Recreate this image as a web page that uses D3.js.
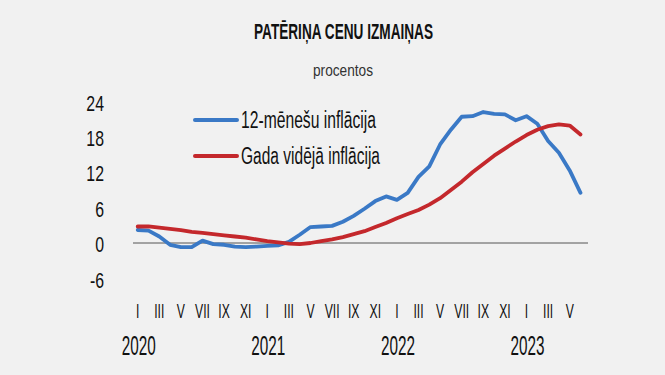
<!DOCTYPE html>
<html><head><meta charset="utf-8">
<script src="https://cdn.jsdelivr.net/npm/d3@7"></script>
<style>html,body{margin:0;padding:0;background:#f1f1f1;} svg{display:block;}</style>
</head><body>
<svg id="c" width="665" height="375"></svg>
<script>
const months = [
  "2020-01","2020-02","2020-03","2020-04","2020-05","2020-06","2020-07","2020-08","2020-09","2020-10","2020-11","2020-12",
  "2021-01","2021-02","2021-03","2021-04","2021-05","2021-06","2021-07","2021-08","2021-09","2021-10","2021-11","2021-12",
  "2022-01","2022-02","2022-03","2022-04","2022-05","2022-06","2022-07","2022-08","2022-09","2022-10","2022-11","2022-12",
  "2023-01","2023-02","2023-03","2023-04","2023-05","2023-06"];
const inflation12m = [
  2.2, 2.1, 1.1, -0.3, -0.7, -0.7, 0.4, -0.2, -0.3, -0.6, -0.7, -0.6,
  -0.5, -0.4, 0.2, 1.4, 2.7, 2.8, 2.9, 3.6, 4.6, 5.8, 7.1, 7.9,
  7.3, 8.5, 11.2, 13.0, 16.7, 19.2, 21.4, 21.5, 22.2, 21.9, 21.8, 20.8,
  21.5, 20.2, 17.3, 15.3, 12.3, 8.5];
const inflationAvg = [
  2.8, 2.8, 2.6, 2.4, 2.2, 1.9, 1.7, 1.5, 1.3, 1.1, 0.9, 0.6,
  0.3, 0.1, -0.1, -0.2, 0.0, 0.3, 0.6, 1.0, 1.5, 2.0, 2.7, 3.4,
  4.2, 4.9, 5.6, 6.5, 7.6, 9.0, 10.4, 12.0, 13.4, 14.8, 16.0, 17.2,
  18.3, 19.2, 19.8, 20.1, 19.9, 18.4];
const yTicks = [-6, 0, 6, 12, 18, 24];
const romanLabels = ["I","III","V","VII","IX","XI"];
const yearLabels = ["2020","2021","2022","2023"];
const seriesNames = ["12-mēnešu inflācija", "Gada vidējā inflācija"];
const seriesColors = ["#3a79c6", "#c4282c"];
const titleText = "PATĒRIŅA CENU IZMAIŅAS";
const subtitleText = "procentos";

const FONT = "'Liberation Sans','Arimo',Arial,sans-serif";
const svg = d3.select("#c");
svg.append("rect").attr("width",665).attr("height",375).attr("fill","#f1f1f1");

const x = d3.scalePoint().domain(months).range([137.7, 580.5]);
const y = d3.scaleLinear().domain([-6, 24]).range([278.4, 101.4]);

function squeeze(sel, factor){
  sel.each(function(){
    const w = this.getComputedTextLength();
    d3.select(this).attr("textLength", w*factor).attr("lengthAdjust","spacingAndGlyphs");
  });
}

// title
svg.append("text").attr("x",343.5).attr("y",39).attr("text-anchor","middle")
  .attr("font-family",FONT).attr("font-size",22).attr("font-weight","bold").attr("fill","#111")
  .attr("textLength",179).attr("lengthAdjust","spacingAndGlyphs").text(titleText);
svg.append("text").attr("x",343).attr("y",76).attr("text-anchor","middle")
  .attr("font-family",FONT).attr("font-size",17).attr("fill","#333")
  .attr("textLength",60).attr("lengthAdjust","spacingAndGlyphs").text(subtitleText);

// y axis labels
const yAxis = svg.append("g").attr("transform","translate(104,0)")
  .call(d3.axisLeft(y).tickValues(yTicks).tickSize(0).tickPadding(0).tickFormat(d => String(d)));
yAxis.select(".domain").remove();
yAxis.selectAll("text").attr("font-family",FONT).attr("font-size",22).attr("fill","#111")
  .attr("dy",null).attr("y",8.6).call(squeeze,0.72);

// zero line
svg.append("line").attr("x1",x(months[0])-4.7).attr("x2",x(months[months.length-1])+7.5)
  .attr("y1",y(0)).attr("y2",y(0)).attr("stroke","#555").attr("stroke-width",1);

// x labels
months.forEach((m,i)=>{
  const mo = +m.slice(5,7);
  if ((mo-1)%2===0){
    svg.append("text").attr("transform",`translate(${x(m)},318) scale(0.58,1)`)
      .attr("text-anchor","middle")
      .attr("font-family",FONT).attr("font-size",21).attr("fill","#111")
      .text(romanLabels[(mo-1)/2]);
  }
  if (mo===1){
    svg.append("text").attr("x",x(m)+1).attr("y",355).attr("text-anchor","middle")
      .attr("font-family",FONT).attr("font-size",27).attr("fill","#111")
      .attr("textLength",34).attr("lengthAdjust","spacingAndGlyphs")
      .text(yearLabels[+m.slice(0,4)-2020]);
  }
});

// lines
const line = d3.line().x((d,i)=>x(months[i])).y(d=>y(d));
[inflation12m, inflationAvg].forEach((s,k)=>{
  svg.append("path").datum(s).attr("d",line).attr("fill","none")
    .attr("stroke",seriesColors[k]).attr("stroke-width",3.8)
    .attr("stroke-linejoin","round").attr("stroke-linecap","round");
});

// legend
const legY = [120, 156];
const legW = [135, 139];
seriesNames.forEach((n,k)=>{
  svg.append("line").attr("x1",195).attr("x2",237).attr("y1",legY[k]).attr("y2",legY[k])
    .attr("stroke",seriesColors[k]).attr("stroke-width",4).attr("stroke-linecap","round");
  svg.append("text").attr("x",241).attr("y",legY[k]+7.8)
    .attr("font-family",FONT).attr("font-size",23).attr("fill","#111")
    .attr("textLength",legW[k]).attr("lengthAdjust","spacingAndGlyphs").text(n);
});
</script>
</body></html>
